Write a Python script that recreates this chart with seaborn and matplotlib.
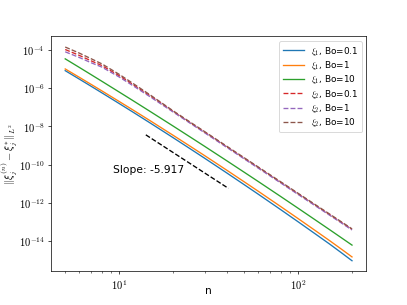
import numpy as np
import pandas as pd
import matplotlib
matplotlib.use("Agg")
import matplotlib.pyplot as plt
import matplotlib.ticker as mticker
import seaborn as sns

# ---------- Data (log10 of error) ----------
n_vals = [5, 6, 7, 8, 10, 12, 15, 20, 25, 30, 40, 50, 60, 80, 100, 125, 150, 175, 200]

xi1_bo01 = [-5.07, -5.516, -5.898, -6.231, -6.794, -7.257, -7.833, -8.585, -9.177, -9.664,
            -10.444, -11.057, -11.562, -12.370, -13.005, -13.647, -14.175, -14.64, -15.05]
xi1_bo1 = [-4.98, -5.421, -5.799, -6.129, -6.686, -7.144, -7.714, -8.459, -9.045, -9.527,
           -10.300, -10.907, -11.407, -12.208, -12.837, -13.473, -13.996, -14.45, -14.85]
xi1_bo10 = [-4.45, -4.902, -5.288, -5.624, -6.190, -6.654, -7.228, -7.974, -8.559, -9.039,
            -9.805, -10.404, -10.896, -11.680, -12.294, -12.913, -13.420, -13.853, -14.229]
xi2_bo01 = [-3.96, -4.27, -4.56, -4.80, -5.33, -5.81, -6.41, -7.205, -7.806, -8.296,
            -9.071, -9.673, -10.163, -10.937, -11.539, -12.140, -12.630, -13.045, -13.405]
xi2_bo1 = [-4.08, -4.38, -4.66, -4.88, -5.40, -5.87, -6.46, -7.235, -7.836, -8.326,
           -9.101, -9.703, -10.193, -10.967, -11.569, -12.170, -12.660, -13.075, -13.435]
xi2_bo10 = [-3.83, -4.15, -4.45, -4.71, -5.26, -5.75, -6.36, -7.175, -7.776, -8.266,
            -9.041, -9.643, -10.133, -10.907, -11.509, -12.110, -12.600, -13.015, -13.375]

slope_n = [14.1, 40.8]
slope_err = [-8.44, -11.25]
slope_text = "Slope: -5.917"

series = [
    (xi1_bo01, r"$\xi_1$, Bo=0.1", "tab:blue", "-"),
    (xi1_bo1, r"$\xi_1$, Bo=1", "tab:orange", "-"),
    (xi1_bo10, r"$\xi_1$, Bo=10", "tab:green", "-"),
    (xi2_bo01, r"$\xi_2$, Bo=0.1", "tab:red", "--"),
    (xi2_bo1, r"$\xi_2$, Bo=1", "tab:purple", "--"),
    (xi2_bo10, r"$\xi_2$, Bo=10", "tab:brown", "--"),
]

# ---------- Plot ----------
plt.rcParams["mathtext.fontset"] = "cm"
fig, ax = plt.subplots(figsize=(6.4, 4.8), dpi=63.6)

for vals, label, color, ls in series:
    df = pd.DataFrame({"n": n_vals, "err": 10.0 ** np.array(vals)})
    sns.lineplot(data=df, x="n", y="err", color=color, linestyle=ls,
                 linewidth=1.5, label=label, ax=ax)

ax.plot(slope_n, 10.0 ** np.array(slope_err), "k--", linewidth=1.5)
ax.text(9.25, 10 ** -10.42, slope_text, fontsize=12)

ax.set_xscale("log")
ax.set_yscale("log")

# computer-modern style tick labels
pow_fmt = mticker.FuncFormatter(lambda v, p: r"$10^{%d}$" % round(np.log10(v)))
ax.xaxis.set_major_formatter(pow_fmt)
ax.yaxis.set_major_formatter(pow_fmt)
ax.xaxis.set_minor_formatter(mticker.NullFormatter())
ax.yaxis.set_minor_formatter(mticker.NullFormatter())
ax.tick_params(labelsize=12)

ax.set_xlabel("n", fontsize=12)
ax.xaxis.set_label_coords(0.5, -0.06)
ax.set_ylabel(r"$||\xi_j^{(n)} - \xi_j^{*}||_{L^2}$", fontsize=12)
ax.yaxis.set_label_coords(-0.102, 0.5)
ax.legend(loc="upper right", labelspacing=0.15, handlelength=2.4)

fig.savefig("out.png", dpi=63.6)
